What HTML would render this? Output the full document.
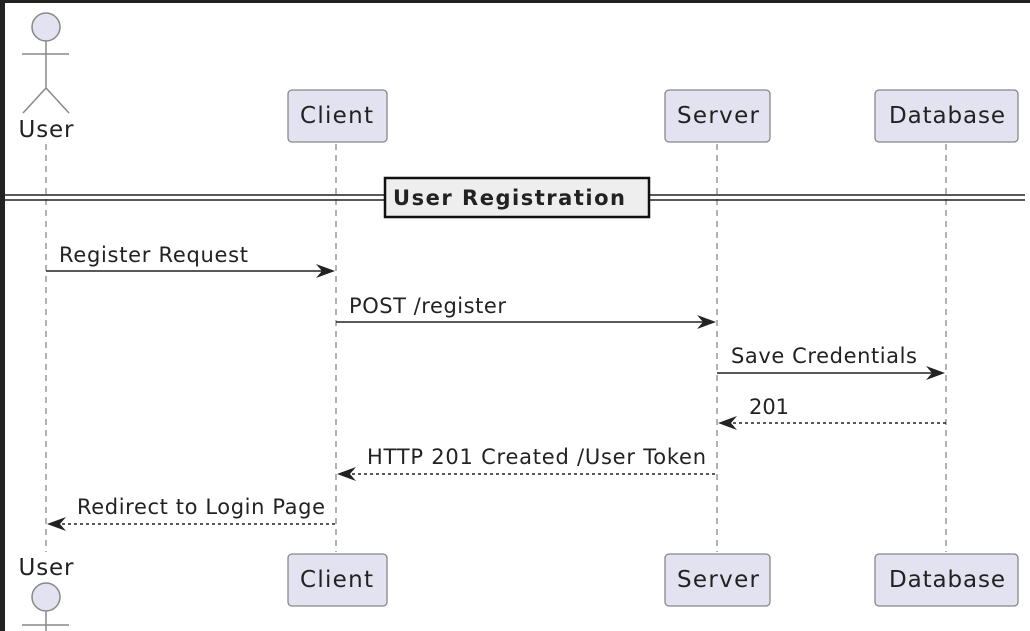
<!DOCTYPE html>
<html><head><meta charset="utf-8"><style>
html,body{margin:0;padding:0;background:#fff;}
svg{display:block;}
text{font-family:"DejaVu Sans","Liberation Sans",sans-serif;fill:#222;}
</style></head><body>
<svg width="1030" height="631" viewBox="0 0 1030 631" xmlns="http://www.w3.org/2000/svg">
<rect x="0" y="0" width="1030" height="631" fill="#fff"/>
<rect x="0" y="0" width="1030" height="3" fill="#222"/>
<rect x="0" y="0" width="5" height="631" fill="#222"/>
<g stroke="#888" stroke-width="1.3" stroke-dasharray="6,5">
<line x1="46" y1="144" x2="46" y2="552"/>
<line x1="336" y1="144" x2="336" y2="552"/>
<line x1="717" y1="144" x2="717" y2="552"/>
<line x1="946" y1="144" x2="946" y2="552"/>
</g>
<g stroke="#888" stroke-width="1.5" fill="none">
<circle cx="46" cy="27" r="14" fill="#e2e2f0"/>
<line x1="46" y1="41" x2="46" y2="88"/>
<line x1="22" y1="54" x2="69" y2="54"/>
<line x1="46" y1="88" x2="23" y2="113"/>
<line x1="46" y1="88" x2="69" y2="113"/>
<circle cx="46" cy="597" r="14" fill="#e2e2f0"/>
<line x1="46" y1="611" x2="46" y2="631"/>
<line x1="22" y1="625" x2="69" y2="625"/>
</g>
<text x="46" y="137" font-size="23" text-anchor="middle" textLength="55">User</text>
<text x="46" y="575" font-size="23" text-anchor="middle" textLength="55">User</text>
<g fill="#e2e2f0" stroke="#888" stroke-width="1.3">
<rect x="288" y="90" width="99" height="52" rx="4"/>
<rect x="665" y="90" width="105" height="52" rx="4"/>
<rect x="875" y="90" width="143" height="52" rx="4"/>
<rect x="288" y="554" width="99" height="52" rx="4"/>
<rect x="665" y="554" width="105" height="52" rx="4"/>
<rect x="875" y="554" width="143" height="52" rx="4"/>
</g>
<g font-size="23">
<text x="300" y="123" textLength="73">Client</text>
<text x="677" y="123" textLength="82">Server</text>
<text x="889" y="123" textLength="116">Database</text>
<text x="300" y="587" textLength="73">Client</text>
<text x="677" y="587" textLength="82">Server</text>
<text x="889" y="587" textLength="116">Database</text>
</g>
<g stroke="#222" stroke-width="1.5">
<line x1="5" y1="195" x2="1025" y2="195"/>
<line x1="5" y1="200" x2="1025" y2="200"/>
</g>
<rect x="385" y="178" width="264" height="39" fill="#eeeeee" stroke="#111" stroke-width="2.5"/>
<text x="393" y="205" font-size="21" font-weight="bold" textLength="232" fill="#111">User Registration</text>
<g stroke="#222" stroke-width="1.5" fill="none">
<line x1="46" y1="271" x2="332" y2="271"/>
<line x1="336" y1="322" x2="713" y2="322"/>
<line x1="717" y1="373" x2="942" y2="373"/>
<line x1="721" y1="423" x2="946" y2="423" stroke-dasharray="3,3"/>
<line x1="340" y1="474" x2="717" y2="474" stroke-dasharray="3,3"/>
<line x1="50" y1="524" x2="336" y2="524" stroke-dasharray="3,3"/>
</g>
<g fill="#222">
<path d="M335 271 L316 264 L322 271 L316 278 Z"/>
<path d="M716 322 L697 315 L703 322 L697 329 Z"/>
<path d="M945 373 L926 366 L932 373 L926 380 Z"/>
<path d="M718 423 L737 416 L731 423 L737 430 Z"/>
<path d="M337 474 L356 467 L350 474 L356 481 Z"/>
<path d="M47 524 L66 517 L60 524 L66 531 Z"/>
</g>
<g font-size="21">
<text x="59" y="262" textLength="189">Register Request</text>
<text x="349" y="313" textLength="157">POST /register</text>
<text x="731" y="363" textLength="186">Save Credentials</text>
<text x="749" y="414" textLength="40">201</text>
<text x="367" y="464" textLength="339">HTTP 201 Created /User Token</text>
<text x="77" y="514" textLength="248">Redirect to Login Page</text>
</g>
</svg>
</body></html>
